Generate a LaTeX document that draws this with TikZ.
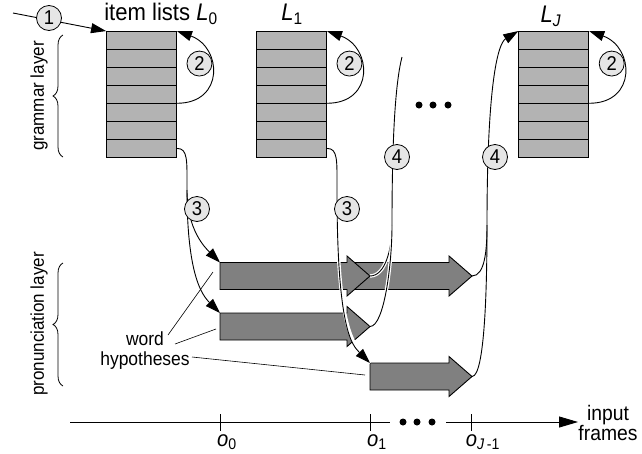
\documentclass[tikz,border=0pt]{standalone}
\usepackage{fontspec}
\setmainfont{Liberation Sans}[FakeStretch=0.92]
\usetikzlibrary{arrows.meta,decorations.pathreplacing,calc}
\definecolor{listgray}{RGB}{179,179,179}
\definecolor{hypgray}{RGB}{128,128,128}
\definecolor{circgray}{RGB}{230,230,230}
\newcommand{\wordarrow}[4]{%
  \draw[hyp] (#2,#4-13.5) -- (#3-23,#4-13.5) -- (#3-23,#4-20) -- (#3,#4) -- (#3-23,#4+20) -- (#3-23,#4+13.5) -- (#2,#4+13.5) -- cycle;
  \coordinate (#1-nw) at (#2,#4-13.5);
  \coordinate (#1-tip) at (#3,#4);
}
\begin{document}
\begin{tikzpicture}[x=1pt,y=-1pt,
  conn/.style={line width=0.9pt, black},
  arr/.style={conn, -{Triangle[length=15pt,width=10pt]}},
  halo/.style={preaction={draw=white, line width=3.4pt, arrows=-}},
  lst/.style={draw, line width=0.9pt, fill=listgray, minimum width=70pt, minimum height=125.5pt, inner sep=0pt},
  rowline/.style={line width=0.9pt},
  hyp/.style={draw, line width=0.9pt, fill=hypgray},
  circ/.style={circle, draw, line width=0.8pt, fill=circgray, minimum size=25pt, inner sep=0pt, font=\fontsize{20}{20}\selectfont},
  lbl/.style={inner sep=0pt},
  thin/.style={line width=0.6pt},
  brc/.style={decorate, decoration={brace, amplitude=10pt}, line width=0.8pt},
]
\useasboundingbox (0,0) rectangle (642,453);

% item lists
\node[lst] (L0) at (141.5,94.25) {};
\node[lst] (L1) at (291.5,94.25) {};
\node[lst] (LJ) at (553.75,94.25) {};
\foreach \L in {L0,L1,LJ}{
  \foreach \k in {1,...,6}{
    \draw[rowline] ($(\L.north west)!\k/7!(\L.south west)$) -- ($(\L.north east)!\k/7!(\L.south east)$);
  }
}
\node[lbl, font=\fontsize{24}{24}\selectfont] (t0) at (161,14) {item lists \textit{L}\textsubscript{0}};
\node[lbl, font=\fontsize{24}{24}\selectfont] (t1) at (292,14) {\textit{L}\textsubscript{1}};
\node[lbl, font=\fontsize{24}{24}\selectfont] (tJ) at (551,16) {\textit{L}\textsubscript{\textit{J}}};

% layer braces
\draw[brc] (63,157) -- (63,35);
\draw[brc] (63,386) -- (63,263);
\node[lbl, rotate=90, font=\fontsize{18.5}{18.5}\selectfont] (gl) at (39,96) {grammar layer};
\node[lbl, rotate=90, font=\fontsize{18.5}{18.5}\selectfont] (pl) at (39,324) {pronunciation layer};

% word hypotheses
\wordarrow{A2}{355}{472}{276}
\wordarrow{A}{220}{370}{276}
\wordarrow{B}{220}{370}{326.5}
\wordarrow{C}{370}{472}{376.5}

% step 1
\coordinate (s1) at (13,13);
\draw[arr] (s1) -- (L0.north west);

% step 2 loops
\foreach \L in {L0,L1,LJ}{
  \draw[arr] ($(\L.north east)!4/7!(\L.south east)$) .. controls +(48,0) and +(45,16) .. (\L.north east);
}

% step 3
\coordinate (r07) at ($(L0.north east)!6.5/7!(L0.south east)$);
\coordinate (r17) at ($(L1.north east)!6.5/7!(L1.south east)$);
\coordinate (b0) at (187,190);
\coordinate (b1) at (337,190);
\draw[conn] (r07) .. controls +(11,0) and +(0,-30) .. (b0);
\draw[arr] (b0) .. controls +(0,40) and +(-15,-15) .. (A-nw);
\draw[arr] (b0) .. controls +(0,85) and +(-18,-18) .. (B-nw);
\draw[conn] (r17) .. controls +(11,0) and +(0,-30) .. (b1);
\draw[arr, halo] (b1) .. controls +(0,140) and +(-18,-18) .. (C-nw);

% step 4
\coordinate (m4a) at (392,225);
\coordinate (t4a) at (402,57);
\coordinate (m4b) at (487,225);
\draw[conn, halo] (A-tip) .. controls +(15,0) and +(0,25) .. (m4a);
\draw[conn, halo] (B-tip) .. controls +(14,0) and +(0,40) .. (m4a);
\draw[conn] (m4a) .. controls (392,130) and (396,80) .. (t4a);
\draw[conn] (A2-tip) .. controls +(13,0) and +(0,25) .. (m4b);
\draw[conn] (C-tip) .. controls +(13,0) and +(0,60) .. (m4b);
\draw[arr] (m4b) .. controls (487,90) and (497,44) .. (LJ.north west);

% circled numbers
\node[circ] (c1) at (49,18) {1};
\node[circ] (c2a) at ($(L0.north east)+(22.5,32.5)$) {2};
\node[circ] (c2b) at ($(L1.north east)+(22.5,32.5)$) {2};
\node[circ] (c2c) at ($(LJ.north east)+(22.5,32.5)$) {2};
\node[circ] (c3a) at (197,209) {3};
\node[circ] (c3b) at (347,209) {3};
\node[circ] (c4a) at (397,157) {4};
\node[circ] (c4b) at (495,157) {4};

% dots between lists
\fill (419,105) circle (3.5) (433,105) circle (3.5) (448,105) circle (3.5);

% word hypotheses label
\node[lbl, align=center, font=\fontsize{19}{20}\selectfont] (wh) at (145,351) {word\\hypotheses};
\coordinate (w1a) at (168,335); \coordinate (w1b) at (213,272);
\coordinate (w2a) at (175,344); \coordinate (w2b) at (216,329);
\coordinate (w3a) at (192,357); \coordinate (w3b) at (365,375);
\draw[thin] (w1a) -- (w1b);
\draw[thin] (w2a) -- (w2b);
\draw[thin] (w3a) -- (w3b);

% time axis
\coordinate (ax0) at (70,422); \coordinate (ax1) at (390,422);
\coordinate (ax2) at (446,422); \coordinate (ax3) at (578,422);
\draw[conn] (ax0) -- (ax1);
\draw[conn, -{Triangle[length=19pt,width=11pt]}] (ax2) -- (ax3);
\fill (403,422) circle (3.5) (417,422) circle (3.5) (432,422) circle (3.5);
\foreach \x in {220,370,471}{ \draw[conn] (\x,414) -- (\x,431); }
\node[lbl, font=\fontsize{22}{22}\selectfont] (o0) at (227,442) {\textit{o}\textsubscript{0}};
\node[lbl, font=\fontsize{22}{22}\selectfont] (o1) at (377,442) {\textit{o}\textsubscript{1}};
\node[lbl, font=\fontsize{22}{22}\selectfont] (oJ) at (483,442) {\textit{o}\textsubscript{\textit{J}\,-1}};
\node[lbl, align=center, font=\fontsize{21}{18}\selectfont] (inp) at (608,423) {input\\frames};
\end{tikzpicture}
\end{document}
